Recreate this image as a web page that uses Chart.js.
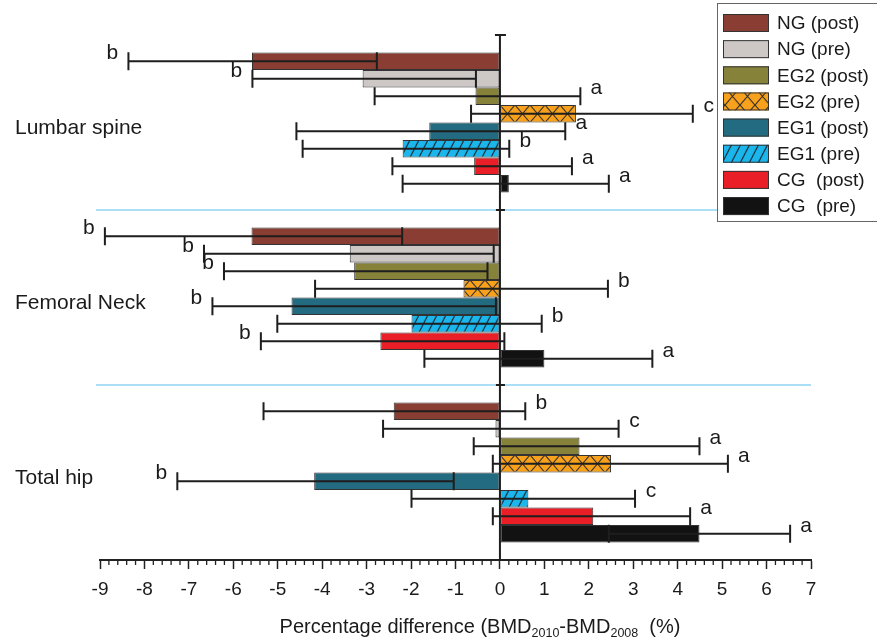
<!DOCTYPE html>
<html>
<head>
<meta charset="utf-8">
<script src="https://cdn.jsdelivr.net/npm/chart.js@4.4.1/dist/chart.umd.min.js"></script>
<style>
  html, body { margin: 0; padding: 0; background: #fff; }
  #wrap { width: 877px; height: 637px; position: relative; }
</style>
</head>
<body>
<div id="wrap"><canvas id="c" width="877" height="637"></canvas></div>
<script>
// ---------------- DATA ----------------
const categories = ['Lumbar spine', 'Femoral Neck', 'Total hip'];
const seriesNames = ['NG (post)', 'NG (pre)', 'EG2 (post)', 'EG2 (pre)', 'EG1 (post)', 'EG1 (pre)', 'CG  (post)', 'CG  (pre)'];

// mean percentage difference, rows = series (order above), cols = categories
const meanNGpost  = [-5.58, -5.59, -2.39];
const meanNGpre   = [-3.09, -3.38, -0.10];
const meanEG2post = [-0.55, -3.28,  1.79];
const meanEG2pre  = [ 1.71, -0.82,  2.50];
const meanEG1post = [-1.59, -4.69, -4.18];
const meanEG1pre  = [-2.19, -1.99,  0.64];
const meanCGpost  = [-0.58, -2.69,  2.10];
const meanCGpre   = [ 0.20,  1.00,  4.49];

// whisker ends (lower / upper), same layout
const whiskerLow = [
  [-8.36, -8.89, -5.32],
  [-5.57, -6.66, -2.63],
  [-2.82, -6.21, -0.59],
  [-0.65, -4.16, -0.16],
  [-4.58, -6.47, -7.26],
  [-4.44, -5.01, -1.99],
  [-2.42, -5.38, -0.16],
  [-2.19, -1.70,  2.45]
];
const whiskerHigh = [
  [-2.77, -2.20,  0.57],
  [-0.54, -0.14,  2.67],
  [ 1.81, -0.28,  4.49],
  [ 4.34,  2.43,  5.13],
  [ 1.47, -0.09, -1.04],
  [ 0.21,  0.94,  3.04],
  [ 1.62,  0.10,  4.28],
  [ 2.45,  3.43,  6.53]
];
// significance letters and which whisker end they sit next to
const letters = [
  ['b','b','b'], ['b','b','c'], ['a','b','a'], ['c','b','a'],
  ['a','b','b'], ['b','b','c'], ['a','b','a'], ['a','a','a']
];
const letterSide = [
  ['L','L','R'], ['L','L','R'], ['R','L','R'], ['R','R','R'],
  ['R','L','L'], ['R','R','R'], ['R','L','R'], ['R','R','R']
];
const xMin = -9, xMax = 7;

// ---------------- STYLE ----------------
const FONT = '"Liberation Sans", Arial, Helvetica, sans-serif';
Chart.defaults.font.family = FONT;

function makeCross(bg) {
  const c = document.createElement('canvas'); c.width = 15; c.height = 35;
  const g = c.getContext('2d');
  g.fillStyle = bg; g.fillRect(0, 0, 15, 35);
  g.strokeStyle = '#2b2b2b'; g.lineWidth = 1.1;
  for (let r = 0; r < 2; r++) {
    const y0 = r * 17.5, y1 = y0 + 17.5;
    g.beginPath();
    g.moveTo(0, y0); g.lineTo(15, y1);
    g.moveTo(15, y0); g.lineTo(0, y1);
    g.stroke();
  }
  return g.createPattern(c, 'repeat');
}
function makeHatch(bg) {
  const c = document.createElement('canvas'); c.width = 9; c.height = 35;
  const g = c.getContext('2d');
  g.fillStyle = bg; g.fillRect(0, 0, 9, 35);
  g.strokeStyle = '#1d2a33'; g.lineWidth = 1.2;
  g.beginPath();
  for (let k = -3; k <= 3; k++) { g.moveTo(k * 9, 35); g.lineTo(k * 9 + 18, 0); }
  g.stroke();
  return g.createPattern(c, 'repeat');
}
const crossPat = makeCross('#f7a11c');
const hatchPat = makeHatch('#1ab6ec');

const fills = ['#8a3e33', '#cdc8c6', '#86823a', crossPat, '#236b80', hatchPat, '#e91e26', '#121212'];
const meanRows = [meanNGpost, meanNGpre, meanEG2post, meanEG2pre, meanEG1post, meanEG1pre, meanCGpost, meanCGpre];

const datasets = seriesNames.map((name, i) => ({
  label: name,
  data: meanRows[i],
  backgroundColor: fills[i],
  borderColor: '#333',
  borderWidth: 1,
  borderSkipped: false,
  barPercentage: 1.0,
  categoryPercentage: 0.8
}));

// ---------------- PLUGINS ----------------
const decor = {
  id: 'decor',
  beforeDatasetsDraw(chart) {
    const { ctx, chartArea, scales } = chart;
    const x0 = scales.x.getPixelForValue(0);
    const m = new DOMMatrix().translate(x0, chartArea.top);
    crossPat.setTransform(m);
    hatchPat.setTransform(m);
    const ys = scales.y;
    ctx.save();
    // light blue separators between categories
    ctx.strokeStyle = '#8fd3f4'; ctx.lineWidth = 1.5;
    for (let i = 0; i < categories.length - 1; i++) {
      const yb = (ys.getPixelForValue(i) + ys.getPixelForValue(i + 1)) / 2;
      ctx.beginPath(); ctx.moveTo(chartArea.left - 4, yb); ctx.lineTo(chartArea.right, yb); ctx.stroke();
    }
    // category labels (left aligned, may overlap plot area)
    ctx.fillStyle = '#1a1a1a';
    ctx.font = '21px ' + FONT;
    ctx.textAlign = 'left'; ctx.textBaseline = 'middle';
    categories.forEach((name, i) => {
      ctx.fillText(name, 15, ys.getPixelForValue(i) + 6);
    });
    ctx.restore();
  },
  afterDatasetsDraw(chart) {
    const { ctx, chartArea, scales } = chart;
    const xs = scales.x, ys = scales.y;
    ctx.save();
    // whiskers
    ctx.strokeStyle = '#1e1e1e'; ctx.lineWidth = 2;
    const cap = 9;
    chart.data.datasets.forEach((ds, di) => {
      const meta = chart.getDatasetMeta(di);
      meta.data.forEach((bar, i) => {
        const y = bar.y;
        const xa = xs.getPixelForValue(whiskerLow[di][i]);
        const xb = xs.getPixelForValue(whiskerHigh[di][i]);
        ctx.beginPath();
        ctx.moveTo(xa, y); ctx.lineTo(xb, y);
        ctx.moveTo(xa, y - cap); ctx.lineTo(xa, y + cap);
        ctx.moveTo(xb, y - cap); ctx.lineTo(xb, y + cap);
        ctx.stroke();
      });
    });
    // zero line
    const x0 = xs.getPixelForValue(0);
    ctx.beginPath();
    ctx.moveTo(x0, chartArea.top); ctx.lineTo(x0, chartArea.bottom);
    ctx.moveTo(x0 - 5, chartArea.top); ctx.lineTo(x0 + 6, chartArea.top);
    for (let i = 0; i < categories.length - 1; i++) {
      const yb = (ys.getPixelForValue(i) + ys.getPixelForValue(i + 1)) / 2;
      ctx.moveTo(x0 - 4, yb); ctx.lineTo(x0 + 5, yb);
    }
    ctx.stroke();
    // letters
    ctx.fillStyle = '#1a1a1a';
    ctx.font = '21px ' + FONT;
    ctx.textAlign = 'center'; ctx.textBaseline = 'middle';
    chart.data.datasets.forEach((ds, di) => {
      const meta = chart.getDatasetMeta(di);
      meta.data.forEach((bar, i) => {
        const left = letterSide[di][i] === 'L';
        const xe = xs.getPixelForValue(left ? whiskerLow[di][i] : whiskerHigh[di][i]);
        ctx.fillText(letters[di][i], xe + (left ? -16 : 16), bar.y - 8);
      });
    });
    ctx.restore();
  },
  afterDraw(chart) {
    const { ctx, chartArea, scales } = chart;
    const xs = scales.x;
    ctx.save();
    // minor ticks
    ctx.strokeStyle = '#222'; ctx.lineWidth = 1.3;
    ctx.beginPath();
    const nMinor = Math.round((xMax - xMin) * 5);
    for (let k = 0; k <= nMinor; k++) {
      if (k % 5 === 0) continue;
      const px = xs.getPixelForValue(xMin + k * 0.2);
      ctx.moveTo(px, chartArea.bottom); ctx.lineTo(px, chartArea.bottom + 5);
    }
    ctx.stroke();

    // axis title with subscripts
    const parts = [
      ['Percentage difference (BMD', 20, 0],
      ['2010', 12.5, 4],
      ['-BMD', 20, 0],
      ['2008', 12.5, 4],
      ['  (%)', 20, 0]
    ];
    let total = 0;
    parts.forEach(p => { ctx.font = p[1] + 'px ' + FONT; total += ctx.measureText(p[0]).width; });
    let tx = 480 - total / 2;
    const base = 633;
    ctx.fillStyle = '#1a1a1a'; ctx.textAlign = 'left'; ctx.textBaseline = 'alphabetic';
    parts.forEach(p => {
      ctx.font = p[1] + 'px ' + FONT;
      ctx.fillText(p[0], tx, base + p[2]);
      tx += ctx.measureText(p[0]).width;
    });

    // legend
    const lx = 717, ly = 3, lw = 175, lh = 219;
    ctx.fillStyle = '#fff'; ctx.fillRect(lx, ly, lw, lh);
    ctx.strokeStyle = '#666'; ctx.lineWidth = 1;
    ctx.strokeRect(lx + 0.5, ly + 0.5, lw, lh - 1);
    ctx.font = '19px ' + FONT; ctx.textBaseline = 'middle';
    chart.data.datasets.forEach((ds, i) => {
      const cy = 23 + i * 26.15;
      ctx.fillStyle = ds.backgroundColor;
      ctx.fillRect(723, cy - 9, 46, 18);
      ctx.strokeStyle = '#333'; ctx.lineWidth = 1;
      ctx.strokeRect(723.5, cy - 8.5, 45, 17);
      ctx.fillStyle = '#1a1a1a';
      ctx.fillText(ds.label, 777, cy + 1);
    });
    ctx.restore();
  }
};

// ---------------- CHART ----------------
new Chart(document.getElementById('c'), {
  type: 'bar',
  data: { labels: categories, datasets },
  options: {
    indexAxis: 'y',
    responsive: false,
    animation: false,
    events: [],
    layout: { padding: { left: 15, top: 35, right: 66, bottom: 0 } },
    plugins: { legend: { display: false }, tooltip: { enabled: false } },
    scales: {
      x: {
        type: 'linear', min: xMin, max: xMax,
        afterFit(s) { s.height = 77; },
        ticks: { stepSize: 1, autoSkip: false, maxRotation: 0, padding: 9,
                 color: '#1a1a1a', font: { size: 19 } },
        grid: { drawOnChartArea: false, drawTicks: true, tickLength: 9, tickWidth: 1.5, tickColor: '#222' },
        border: { display: true, color: '#222', width: 2 }
      },
      y: {
        type: 'category',
        afterFit(s) { s.width = 85; },
        grid: { display: false },
        border: { display: false },
        ticks: { display: false }
      }
    }
  },
  plugins: [decor]
});
</script>
</body>
</html>
